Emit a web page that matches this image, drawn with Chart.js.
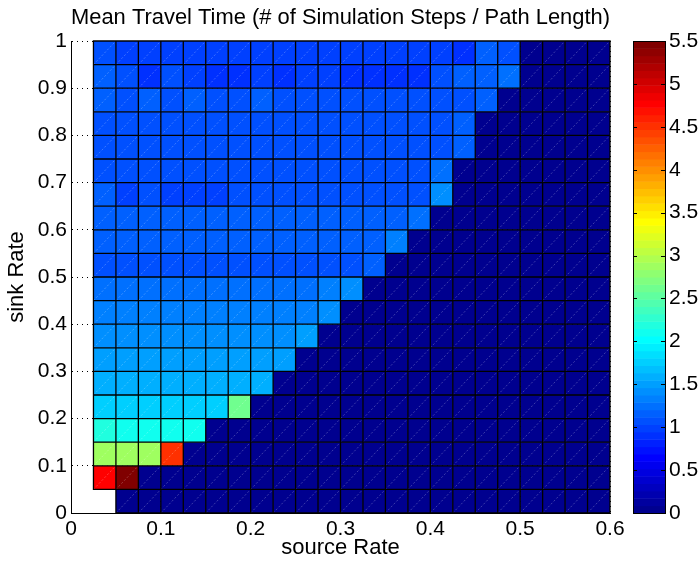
<!DOCTYPE html>
<html lang="en">
<head>
<meta charset="UTF-8">
<title>Mean Travel Time</title>
<script src="https://cdn.jsdelivr.net/npm/chart.js"></script>
<style>
  html, body { margin: 0; padding: 0; background: #fff; }
  #wrap { width: 700px; height: 565px; }
</style>
</head>
<body>
<div id="wrap"><canvas id="heat" width="700" height="565"></canvas></div>
<script>
// cell edges (pcolor grid)
const sourceEdges = [0.025, 0.05, 0.075, 0.1, 0.125, 0.15, 0.175, 0.2, 0.225, 0.25, 0.275, 0.3,
                     0.325, 0.35, 0.375, 0.4, 0.425, 0.45, 0.475, 0.5, 0.525, 0.55, 0.575, 0.6];
const sinkEdges = [0, 0.05, 0.1, 0.15, 0.2, 0.25, 0.3, 0.35, 0.4, 0.45, 0.5,
                   0.55, 0.6, 0.65, 0.7, 0.75, 0.8, 0.85, 0.9, 0.95, 1.0];

// color limits of the colorbar
const colorMin = 0;
const colorMax = 5.5;

// mean travel time, one row per sink rate (bottom to top), one value per source rate
const travelTime = [
  [null, 0.05, 0.05, 0.05, 0.05, 0.05, 0.05, 0.05, 0.05, 0.05, 0.05, 0.05, 0.05, 0.05, 0.05, 0.05, 0.05, 0.05, 0.05, 0.05, 0.05, 0.05, 0.05],
  [4.80, 5.45, 0.05, 0.05, 0.05, 0.05, 0.05, 0.05, 0.05, 0.05, 0.05, 0.05, 0.05, 0.05, 0.05, 0.05, 0.05, 0.05, 0.05, 0.05, 0.05, 0.05, 0.05],
  [2.88, 2.85, 2.85, 4.50, 0.05, 0.05, 0.05, 0.05, 0.05, 0.05, 0.05, 0.05, 0.05, 0.05, 0.05, 0.05, 0.05, 0.05, 0.05, 0.05, 0.05, 0.05, 0.05],
  [2.20, 2.12, 2.12, 2.12, 2.12, 0.05, 0.05, 0.05, 0.05, 0.05, 0.05, 0.05, 0.05, 0.05, 0.05, 0.05, 0.05, 0.05, 0.05, 0.05, 0.05, 0.05, 0.05],
  [1.74, 1.74, 1.74, 1.74, 1.74, 1.74, 2.60, 0.05, 0.05, 0.05, 0.05, 0.05, 0.05, 0.05, 0.05, 0.05, 0.05, 0.05, 0.05, 0.05, 0.05, 0.05, 0.05],
  [1.58, 1.58, 1.58, 1.58, 1.58, 1.58, 1.58, 1.58, 0.05, 0.05, 0.05, 0.05, 0.05, 0.05, 0.05, 0.05, 0.05, 0.05, 0.05, 0.05, 0.05, 0.05, 0.05],
  [1.51, 1.51, 1.51, 1.51, 1.51, 1.51, 1.51, 1.51, 1.54, 0.05, 0.05, 0.05, 0.05, 0.05, 0.05, 0.05, 0.05, 0.05, 0.05, 0.05, 0.05, 0.05, 0.05],
  [1.42, 1.42, 1.42, 1.42, 1.42, 1.42, 1.42, 1.42, 1.42, 1.48, 0.05, 0.05, 0.05, 0.05, 0.05, 0.05, 0.05, 0.05, 0.05, 0.05, 0.05, 0.05, 0.05],
  [1.34, 1.34, 1.34, 1.34, 1.34, 1.34, 1.34, 1.34, 1.34, 1.34, 1.42, 0.05, 0.05, 0.05, 0.05, 0.05, 0.05, 0.05, 0.05, 0.05, 0.05, 0.05, 0.05],
  [1.24, 1.24, 1.24, 1.24, 1.24, 1.24, 1.24, 1.24, 1.24, 1.24, 1.34, 1.40, 0.05, 0.05, 0.05, 0.05, 0.05, 0.05, 0.05, 0.05, 0.05, 0.05, 0.05],
  [1.10, 1.10, 1.10, 1.10, 1.10, 1.10, 1.10, 1.10, 1.10, 1.10, 1.10, 1.10, 1.18, 0.05, 0.05, 0.05, 0.05, 0.05, 0.05, 0.05, 0.05, 0.05, 0.05],
  [1.13, 1.13, 1.13, 1.13, 1.13, 1.13, 1.13, 1.13, 1.13, 1.13, 1.13, 1.13, 1.13, 1.29, 0.05, 0.05, 0.05, 0.05, 0.05, 0.05, 0.05, 0.05, 0.05],
  [1.18, 1.18, 1.18, 1.18, 1.18, 1.18, 1.18, 1.18, 1.18, 1.18, 1.18, 1.18, 1.18, 1.18, 1.27, 0.05, 0.05, 0.05, 0.05, 0.05, 0.05, 0.05, 0.05],
  [1.18, 1.02, 1.05, 1.02, 1.02, 0.99, 1.07, 1.10, 1.05, 1.07, 1.07, 1.07, 1.10, 1.10, 1.10, 1.40, 0.05, 0.05, 0.05, 0.05, 0.05, 0.05, 0.05],
  [1.07, 1.07, 1.05, 1.07, 1.05, 1.07, 1.07, 1.05, 1.07, 1.07, 1.10, 1.10, 1.10, 1.10, 1.10, 1.24, 0.05, 0.05, 0.05, 0.05, 0.05, 0.05, 0.05],
  [1.10, 1.07, 1.07, 1.10, 1.07, 1.07, 1.10, 1.07, 1.07, 1.07, 1.10, 1.10, 1.10, 1.10, 1.10, 1.10, 1.20, 0.05, 0.05, 0.05, 0.05, 0.05, 0.05],
  [1.10, 1.10, 1.07, 1.10, 1.10, 1.07, 1.10, 1.10, 1.10, 1.07, 1.10, 1.10, 1.10, 1.10, 1.10, 1.10, 1.13, 0.05, 0.05, 0.05, 0.05, 0.05, 0.05],
  [1.13, 1.10, 1.13, 1.10, 1.13, 1.10, 1.10, 1.13, 1.10, 1.10, 1.10, 1.10, 1.10, 1.10, 1.10, 1.10, 1.10, 1.15, 0.05, 0.05, 0.05, 0.05, 0.05],
  [1.13, 1.07, 0.94, 1.10, 0.97, 0.91, 0.94, 0.97, 0.91, 0.97, 0.97, 0.94, 0.94, 0.91, 0.94, 1.10, 1.13, 1.15, 1.27, 0.05, 0.05, 0.05, 0.05],
  [1.10, 0.99, 1.02, 0.97, 0.99, 0.97, 0.99, 0.97, 0.99, 0.97, 0.99, 0.99, 0.97, 0.97, 0.99, 0.99, 0.94, 1.13, 1.10, 0.05, 0.05, 0.05, 0.05]
];

// matlab jet(64)
const nColors = 64;
function jetIndex(i) {
  const t = i / nColors;
  const c = v => Math.round(255 * Math.max(0, Math.min(1, v)));
  return 'rgb(' + c(1.5 - Math.abs(4 * t - 3)) + ',' + c(1.5 - Math.abs(4 * t - 2)) + ',' + c(1.5 - Math.abs(4 * t - 1)) + ')';
}
function jetColor(v) {
  let i = Math.floor((v - colorMin) / (colorMax - colorMin) * nColors) + 1;
  i = Math.max(1, Math.min(nColors, i));
  return jetIndex(i);
}

// plain tick text: 1 instead of 1.0
const tickText = v => String(+v.toFixed(2));

const heatmapPlugin = {
  id: 'heatmap',
  beforeDatasetsDraw(chart) {
    const {ctx, scales: {x, y}} = chart;
    const cells = [];
    travelTime.forEach((row, r) => {
      row.forEach((v, c) => {
        if (v === null) return;
        const x0 = x.getPixelForValue(sourceEdges[c]);
        const x1 = x.getPixelForValue(sourceEdges[c + 1]);
        const y0 = y.getPixelForValue(sinkEdges[r]);
        const y1 = y.getPixelForValue(sinkEdges[r + 1]);
        cells.push({x0, x1, y0, y1, v});
      });
    });
    ctx.save();
    cells.forEach(k => {
      ctx.fillStyle = jetColor(k.v);
      ctx.fillRect(k.x0, k.y1, k.x1 - k.x0, k.y0 - k.y1);
    });
    // faint triangle seams
    ctx.strokeStyle = 'rgba(255,255,255,0.35)';
    ctx.lineWidth = 0.7;
    ctx.setLineDash([2, 2]);
    ctx.beginPath();
    cells.forEach(k => {
      ctx.moveTo(k.x0, k.y0);
      ctx.lineTo(k.x1, k.y1);
    });
    ctx.stroke();
    // black facet edges
    ctx.setLineDash([]);
    ctx.strokeStyle = '#000';
    ctx.lineWidth = 1.3;
    ctx.beginPath();
    cells.forEach(k => {
      ctx.rect(k.x0, k.y1, k.x1 - k.x0, k.y0 - k.y1);
    });
    ctx.stroke();
    ctx.restore();
  }
};

const colorbarPlugin = {
  id: 'colorbar',
  afterDraw(chart) {
    const {ctx} = chart;
    const cb = chart.scales.cb;
    const left = cb.left + 23;
    const right = cb.left + 55;
    ctx.save();
    for (let i = 1; i <= nColors; i++) {
      const yb = cb.getPixelForValue(colorMin + (i - 1) * (colorMax - colorMin) / nColors);
      const yt = cb.getPixelForValue(colorMin + i * (colorMax - colorMin) / nColors);
      ctx.fillStyle = jetIndex(i);
      ctx.fillRect(left, yt, right - left, yb - yt + 0.5);
    }
    ctx.strokeStyle = '#000';
    ctx.lineWidth = 1;
    ctx.strokeRect(left + 0.5, cb.top + 0.5, right - left, cb.bottom - cb.top);
    ctx.beginPath();
    cb.ticks.forEach(t => {
      const yp = Math.round(cb.getPixelForValue(t.value)) + 0.5;
      ctx.moveTo(left, yp); ctx.lineTo(left + 4, yp);
      ctx.moveTo(right, yp); ctx.lineTo(right - 4, yp);
    });
    ctx.stroke();
    ctx.restore();
  }
};

Chart.defaults.font.family = "'Liberation Sans', Arial, sans-serif";
Chart.defaults.font.size = 21;
Chart.defaults.color = '#000';

new Chart(document.getElementById('heat'), {
  type: 'scatter',
  data: { datasets: [] },
  options: {
    responsive: false,
    animation: false,
    layout: { padding: 0 },
    plugins: {
      legend: { display: false },
      tooltip: { enabled: false },
      title: {
        display: true,
        fullSize: false,
        text: 'Mean Travel Time (# of Simulation Steps / Path Length)',
        font: { size: 22, weight: 'normal' },
        padding: { top: 5, bottom: 9.6 }
      }
    },
    scales: {
      x: {
        type: 'linear',
        min: 0,
        max: 0.6,
        ticks: { stepSize: 0.1, padding: 4, callback: tickText },
        grid: { color: '#000', drawTicks: false },
        border: { display: true, color: '#000', width: 1, dash: [1, 4] },
        title: { display: true, text: 'source Rate', font: { size: 22 }, padding: { top: 0, bottom: 4 } },
        afterFit: s => { s.height = 52; }
      },
      y: {
        type: 'linear',
        min: 0,
        max: 1,
        ticks: { stepSize: 0.1, padding: 4, callback: tickText },
        grid: { color: '#000', drawTicks: false },
        border: { display: true, color: '#000', width: 1, dash: [1, 4] },
        title: { display: true, text: 'sink Rate', font: { size: 22 }, padding: { top: 4, bottom: 0 } },
        afterFit: s => { s.width = 71; }
      },
      cb: {
        type: 'linear',
        axis: 'y',
        position: 'right',
        min: colorMin,
        max: colorMax,
        ticks: { stepSize: 0.5, padding: 4, callback: tickText },
        grid: { display: true, drawOnChartArea: false, drawTicks: true, tickLength: 55, color: 'rgba(0,0,0,0)', tickColor: 'rgba(0,0,0,0)' },
        border: { display: false },
        afterFit: s => { s.width = 90; }
      }
    }
  },
  plugins: [heatmapPlugin, colorbarPlugin]
});
</script>
</body>
</html>
